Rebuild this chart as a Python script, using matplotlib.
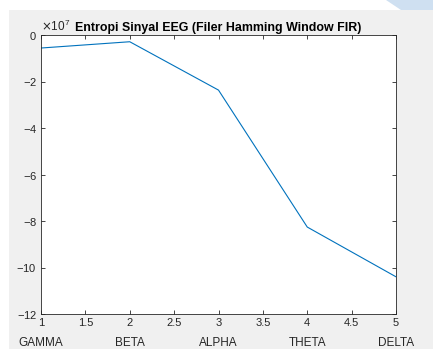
### Entropy of EEG bands after Hamming window FIR filter, MATLAB-like figure

import numpy as np
import matplotlib.pyplot as plt
from matplotlib.ticker import FormatStrFormatter
from matplotlib.patches import Rectangle, Polygon

bands = ["GAMMA", "BETA", "ALPHA", "THETA", "DELTA"]
band_idx = [1, 2, 3, 4, 5]
entropy = [-0.56e7, -0.29e7, -2.37e7, -8.26e7, -10.4e7]
x_ticks = [1, 1.5, 2, 2.5, 3, 3.5, 4, 4.5, 5]
y_ticks = [0, -2e7, -4e7, -6e7, -8e7, -10e7, -12e7]

plt.rcParams['font.family'] = ['Liberation Sans', 'DejaVu Sans']
plt.rcParams['axes.unicode_minus'] = False

W, H = 433, 349
fig = plt.figure(figsize=(W / 100, H / 100), dpi=100)
fig.patch.set_facecolor("white")

# gray figure area and bit of blue decoration in the corner
fig.patches.append(Rectangle((9 / W, 0), 1 - 9 / W, 1 - 10 / H,
                             transform=fig.transFigure, facecolor="#f0f0f0",
                             edgecolor="none", zorder=-5))
fig.patches.append(Polygon([(386 / W, 1), (1, 1), (1, 1 - 10 / H), (401 / W, 1 - 10 / H)],
                           closed=True, transform=fig.transFigure,
                           facecolor="#cfe0f1", edgecolor="none", zorder=-5))

ax = fig.add_axes([41 / W, 1 - 314 / H, (396 - 41) / W, (314 - 35) / H])
ax.set_zorder(2)
ax.set_facecolor("white")
ax.plot(band_idx, entropy, color="#0072BD", linewidth=0.8)

ax.set_xlim(1, 5)
ax.set_ylim(-12e7, 0)
ax.set_xticks(x_ticks)
ax.set_yticks(y_ticks)
ax.xaxis.set_major_formatter(FormatStrFormatter('%g'))
ax.ticklabel_format(axis='y', style='sci', scilimits=(7, 7), useMathText=True)
ax.yaxis.get_offset_text().set_fontsize(8.5)
ax.yaxis.get_offset_text().set_color("#404040")

ax.tick_params(direction="in", length=3, width=0.6, top=True, right=True,
               labelsize=8, colors="#262626", pad=3)
for s in ax.spines.values():
    s.set_color("#262626")
    s.set_linewidth(0.6)

ax.set_title("Entropi Sinyal EEG (Filer Hamming Window FIR)", fontsize=8.9,
             fontweight="bold", pad=3)

# band names under the tick labels
for i, name in zip(band_idx, bands):
    ax.text(i, -0.105, name, transform=ax.get_xaxis_transform(), ha="center",
            va="center", fontsize=8.5, color="#262626")

fig.savefig("out.png", dpi=100, facecolor=fig.get_facecolor())
